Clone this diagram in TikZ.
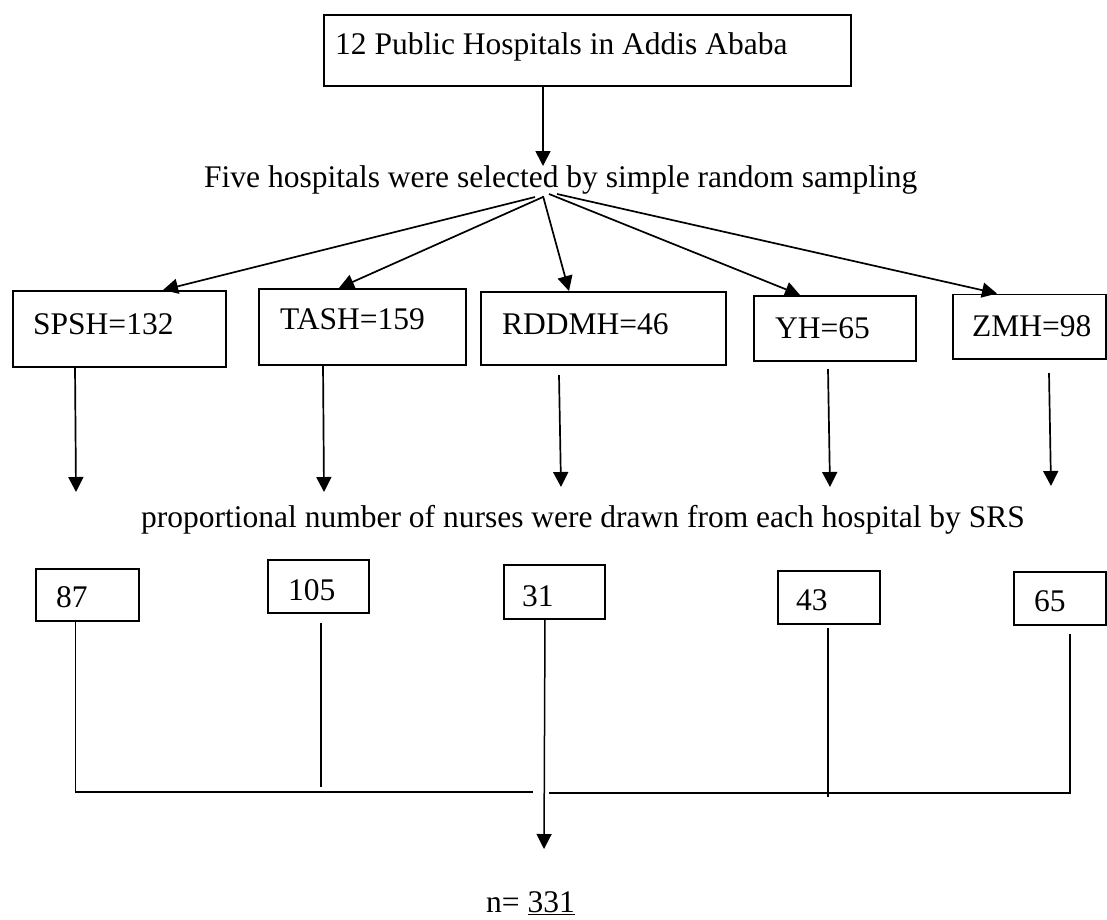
\documentclass[tikz,border=0pt]{standalone}
\usepackage{fontspec}
\setmainfont{Liberation Serif}
\usetikzlibrary{arrows.meta}
\begin{document}
\begin{tikzpicture}[x=1pt,y=-1pt,
  boxshape/.style={draw,line width=1.9pt,rectangle,inner sep=0pt,anchor=north west},
  txt/.style={anchor=base west,inner sep=0pt,font=\fontsize{31.5}{36}\selectfont},
  arr/.style={line width=1.7pt,-{Triangle[length=15pt,width=15pt]}},
  thin/.style={line width=1.2pt},
  rail/.style={line width=1.8pt}]
\useasboundingbox (0,0) rectangle (1107,919);
% top box
\node[boxshape,minimum width=527pt,minimum height=71pt] (top) at (323,14) {};
\node[txt] (toptxt) at (335,54) {12 Public Hospitals in Addis Ababa};
\coordinate (topout) at (543,85);
\node[txt] (five) at (204,187) {Five hospitals were selected by simple random sampling};
\coordinate (fivein) at (543,166);
\draw[arr] (topout) -- (fivein);
% hospital boxes
\node[boxshape,minimum width=213pt,minimum height=76pt] (spsh) at (12,290) {};
\node[txt] at (33,334) {SPSH=132};
\node[boxshape,minimum width=207pt,minimum height=76pt] (tash) at (258,288) {};
\node[txt] at (280,329) {TASH=159};
\node[boxshape,minimum width=245pt,minimum height=73pt] (rddmh) at (480,291) {};
\node[txt] at (502,334) {RDDMH=46};
\node[boxshape,minimum width=162pt,minimum height=65pt] (yh) at (753,295) {};
\node[txt] at (775,338) {YH=65};
\node[boxshape,minimum width=153pt,minimum height=64.5pt] (zmh) at (952,293.5) {};
\node[txt] at (972,336) {ZMH=98};
% fan
\coordinate (f1) at (535,197);
\coordinate (f2) at (543,197);
\coordinate (f3) at (543,196);
\coordinate (f4) at (549,194);
\coordinate (f5) at (557,194);
\coordinate (t1) at (163,290);
\coordinate (t2) at (339,288);
\coordinate (t3) at (569,291);
\coordinate (t4) at (800,295);
\coordinate (t5) at (997,293.5);
\draw[arr] (f1) -- (t1);
\draw[arr] (f2) -- (t2);
\draw[arr] (f3) -- (t3);
\draw[arr] (f4) -- (t4);
\draw[arr] (f5) -- (t5);
% second arrows
\coordinate (a1) at (75,366);   \coordinate (b1) at (76,492);
\coordinate (a2) at (323,364);  \coordinate (b2) at (324,492);
\coordinate (a3) at (559,375);  \coordinate (b3) at (561,487);
\coordinate (a4) at (828,369);  \coordinate (b4) at (830,487);
\coordinate (a5) at (1049,373); \coordinate (b5) at (1051,486);
\draw[arr] (a1) -- (b1);
\draw[arr] (a2) -- (b2);
\draw[arr] (a3) -- (b3);
\draw[arr] (a4) -- (b4);
\draw[arr] (a5) -- (b5);
\node[txt] (prop) at (141,527) {proportional number of nurses were drawn from each hospital by SRS};
% bottom boxes
\node[boxshape,minimum width=103pt,minimum height=52pt] (n87) at (35,568) {};
\node[txt] at (56,607) {87};
\node[boxshape,minimum width=101pt,minimum height=53pt] (n105) at (267,559) {};
\node[txt] at (288,600) {105};
\node[boxshape,minimum width=101pt,minimum height=54pt] (n31) at (503,564) {};
\node[txt] at (522,606) {31};
\node[boxshape,minimum width=102pt,minimum height=53pt] (n43) at (777,570) {};
\node[txt] at (796,610) {43};
\node[boxshape,minimum width=92pt,minimum height=53pt] (n65) at (1013,571) {};
\node[txt] at (1034,611) {65};
% collecting lines
\coordinate (c1) at (75.5,620);
\coordinate (c1b) at (75.5,792);
\coordinate (lend) at (533,792);
\coordinate (c2) at (321,623);
\coordinate (c2b) at (321,787);
\coordinate (c3) at (545,618);
\coordinate (c3b) at (544,849);
\coordinate (c4) at (828,628);
\coordinate (c4b) at (828,797);
\coordinate (c5) at (1070,634);
\coordinate (c5b) at (1070,793);
\coordinate (rend) at (549,793);
\draw[rail] (c1) -- (c1b) -- (lend);
\draw[thin] (c2) -- (c2b);
\draw[thin] (c4) -- (c4b);
\draw[rail,line width=2.2pt] (c5) -- (c5b) -- (rend);
\draw[arr,line width=1.5pt] (c3) -- (c3b);
\node[txt] (total) at (486,912) {n= \underline{331}};
\end{tikzpicture}
\end{document}
